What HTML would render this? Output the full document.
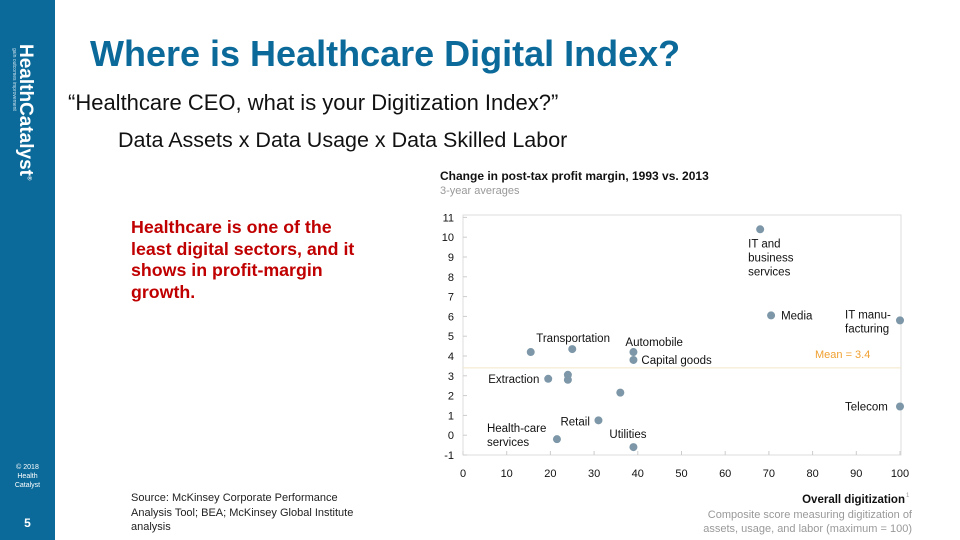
<!DOCTYPE html>
<html><head><meta charset="utf-8"><style>
body{margin:0;width:960px;height:540px;overflow:hidden;background:#fff;font-family:"Liberation Sans",sans-serif;position:relative}
.a{position:absolute;white-space:nowrap}
</style></head><body>
<div class="a" style="left:0;top:0;width:55px;height:540px;background:#0b6a9a"></div>
<div class="a" style="left:14px;top:44px;transform-origin:0 0;transform:rotate(90deg) translateY(-22px);color:#fff;font-size:19px;font-weight:bold">HealthCatalyst<sup style="font-size:6px">®</sup></div>
<div class="a" style="left:11px;top:48px;transform-origin:0 0;transform:rotate(90deg) translateY(-6px);color:#cfe3ee;font-size:5px">gain outcomes improvement</div>
<div class="a" style="left:0;width:55px;top:463px;text-align:center;color:#fff;font-size:7px;line-height:9px;white-space:normal">© 2018<br>Health<br>Catalyst</div>
<div class="a" style="left:0;width:55px;top:516px;text-align:center;color:#fff;font-size:12px;font-weight:bold">5</div>
<div class="a" style="left:90px;top:33px;color:#0b6a9a;font-size:36px;font-weight:bold">Where is Healthcare Digital Index?</div>
<div class="a" style="left:68px;top:90px;color:#111;font-size:22px">“Healthcare CEO, what is your Digitization Index?”</div>
<div class="a" style="left:118px;top:128px;color:#111;font-size:21.5px">Data Assets x Data Usage x Data Skilled Labor</div>
<div class="a" style="left:131px;top:217px;color:#c00000;font-size:17.8px;font-weight:bold;line-height:21.7px">Healthcare is one of the<br>least digital sectors, and it<br>shows in profit-margin<br>growth.</div>
<div class="a" style="left:131px;top:491px;color:#222;font-size:11px;line-height:14.5px">Source: McKinsey Corporate Performance<br>Analysis Tool; BEA; McKinsey Global Institute<br>analysis</div>
<svg class="a" style="left:0;top:0" width="960" height="540" id="chart"></svg>
<script>
const categories=["IT and business services","Media","IT manufacturing","Telecom","Other A","Transportation","Automobile","Capital goods","Extraction","Other B","Other C","Other D","Retail","Health-care services","Utilities"];
const xValues=[68,70.5,100,100,15.5,25,39,39,19.5,24,24,36,31,21.5,39];
const yValues=[10.4,6.05,5.8,1.45,4.2,4.35,4.2,3.8,2.85,3.05,2.8,2.15,0.75,-0.2,-0.6];
const xTicks=[0,10,20,30,40,50,60,70,80,90,100];
const yTicks=[-1,0,1,2,3,4,5,6,7,8,9,10,11];
const meanValue=[3.4];
const labels=[
["IT and|business|services",-12,18,14],["Media",10,4,0],["IT manu-|facturing",-55,-2,14],["Telecom",-55,4,0],
["",0,0,0],["Transportation",-36,-7,0],["Automobile",-8,-6,0],["Capital goods",8,4,0],
["Extraction",-60,4,0],["",0,0,0],["",0,0,0],["",0,0,0],["Retail",-38,5,0],["Health-care|services",-70,-7,14],["Utilities",-24,-9,0]];
const NS="http://www.w3.org/2000/svg";
const svg=document.getElementById('chart');
const X=v=>463+v*4.37, Y=v=>435.2-v*19.8;
function mk(t,a,txt){const e=document.createElementNS(NS,t);for(const k in a)e.setAttribute(k,a[k]);if(txt!==undefined)e.textContent=txt;svg.appendChild(e);return e;}
let e=mk('rect',{x:463,y:215,width:438,height:240,fill:'none',stroke:'#ddd'});

e=mk('text',{x:440,y:180,'font-size':12,'font-weight':'bold',fill:'#111'},'Change in post-tax profit margin, 1993 vs. 2013');

e=mk('text',{x:440,y:194,'font-size':11,fill:'#999'},'3-year averages');

yTicks.forEach(v=>{const t=mk('text',{x:454,y:Y(v)+4,'font-size':11,'text-anchor':'end',fill:'#111'},String(v));

const l=mk('line',{x1:463,x2:467,y1:Y(v),y2:Y(v),stroke:'#ccc'});});
xTicks.forEach(v=>{const t=mk('text',{x:X(v),y:477,'font-size':11,'text-anchor':'middle',fill:'#111'},String(v));

const l=mk('line',{x1:X(v),x2:X(v),y1:451,y2:455,stroke:'#ccc'});});
e=mk('line',{x1:463,x2:901,y1:Y(meanValue[0]),y2:Y(meanValue[0]),stroke:'#f3e6c8','stroke-width':1});

e=mk('text',{x:815,y:Y(meanValue[0])-10,'font-size':11,fill:'#f0a030'},'Mean = '+meanValue[0]);

categories.forEach((c,i)=>{const cx=X(xValues[i]),cy=Y(yValues[i]);
const p=mk('circle',{cx:cx,cy:cy,r:4,fill:'#7d97a8'});

const L=labels[i];if(L[0]){L[0].split('|').forEach((s,j)=>{const t=mk('text',{x:cx+L[1],y:cy+L[2]+j*L[3],'font-size':11.5,fill:'#111'},s);
});}});
e=mk('text',{x:905,y:503,'font-size':11.5,'font-weight':'bold','text-anchor':'end',fill:'#111'},'Overall digitization');

mk('text',{x:906,y:497,'font-size':6,fill:'#999'},'1');
e=mk('text',{x:912,y:518,'font-size':11,'text-anchor':'end',fill:'#999'},'Composite score measuring digitization of');

e=mk('text',{x:912,y:532,'font-size':11,'text-anchor':'end',fill:'#999'},'assets, usage, and labor (maximum = 100)');

</script>
</body></html>
